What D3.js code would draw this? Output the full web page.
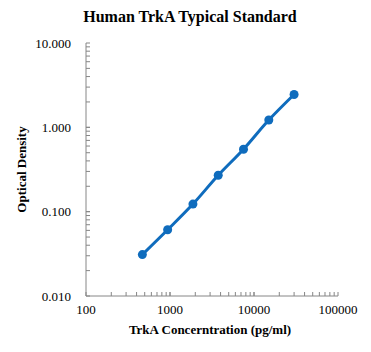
<!DOCTYPE html>
<html>
<head>
<meta charset="utf-8">
<script src="https://cdn.jsdelivr.net/npm/d3@7"></script>
<style>
body { margin: 0; background: #fff; }
text { font-family: "Liberation Serif", "Times New Roman", serif; }
</style>
</head>
<body>
<script>
var w = 371;
var h = 352;

var concentrations = [468.75, 937.5, 1875, 3750, 7500, 15000, 30000];
var densities = [0.031, 0.061, 0.123, 0.27, 0.55, 1.22, 2.45];
var xTicks = [100, 1000, 10000, 100000];
var yTicks = [0.01, 0.1, 1, 10];

var dataset = concentrations.map((c, i) => ({ x: c, y: densities[i] }));

var plotLeft = 86, plotRight = 338, plotTop = 43, plotBottom = 296;

var xScale = d3.scaleLog().domain([100, 100000]).range([plotLeft, plotRight]);
var yScale = d3.scaleLog().domain([0.01, 10]).range([plotBottom, plotTop]);

var svg = d3.select("body")
    .append("svg")
    .attr("width", w)
    .attr("height", h);

svg.append("text")
    .attr("x", 190)
    .attr("y", 22)
    .attr("text-anchor", "middle")
    .attr("font-size", 16)
    .attr("font-weight", "bold")
    .text("Human TrkA Typical Standard");

// minor ticks for each decade
var minor = (lo, hi) => {
    var out = [];
    for (var d = lo; d < hi; d *= 10)
        for (var k = 1; k <= 10; k++) out.push(d * k);
    return out;
};

var axisColor = "#868686";

svg.selectAll(".xt")
    .data(minor(100, 100000))
    .enter()
    .append("line")
    .attr("x1", d => xScale(d))
    .attr("x2", d => xScale(d))
    .attr("y1", plotBottom)
    .attr("y2", plotBottom - 4)
    .attr("stroke", axisColor);

svg.selectAll(".yt")
    .data(minor(0.01, 10))
    .enter()
    .append("line")
    .attr("x1", plotLeft)
    .attr("x2", plotLeft + 4)
    .attr("y1", d => yScale(d))
    .attr("y2", d => yScale(d))
    .attr("stroke", axisColor);

svg.append("line")
    .attr("x1", plotLeft).attr("x2", plotRight)
    .attr("y1", plotBottom).attr("y2", plotBottom)
    .attr("stroke", axisColor);
svg.append("line")
    .attr("x1", plotLeft).attr("x2", plotLeft)
    .attr("y1", plotTop).attr("y2", plotBottom)
    .attr("stroke", axisColor);

svg.selectAll(".xl")
    .data(xTicks)
    .enter()
    .append("text")
    .attr("x", d => xScale(d))
    .attr("y", plotBottom + 18)
    .attr("text-anchor", "middle")
    .attr("font-size", 13)
    .text(d => d);

svg.selectAll(".yl")
    .data(yTicks)
    .enter()
    .append("text")
    .attr("x", plotLeft - 15)
    .attr("y", d => yScale(d))
    .attr("dy", "0.35em")
    .attr("text-anchor", "end")
    .attr("font-size", 13)
    .text(d => d3.format(".3f")(d));

svg.append("text")
    .attr("x", 210)
    .attr("y", 334)
    .attr("text-anchor", "middle")
    .attr("font-size", 13)
    .attr("font-weight", "bold")
    .text("TrkA Concerntration (pg/ml)");

svg.append("text")
    .attr("transform", "translate(26," + ((plotTop + plotBottom) / 2) + ") rotate(-90)")
    .attr("text-anchor", "middle")
    .attr("font-size", 13)
    .attr("font-weight", "bold")
    .text("Optical Density");

var color = "#0f6cbd";

var line = d3.line()
    .x(d => xScale(d.x))
    .y(d => yScale(d.y))
    .curve(d3.curveCatmullRom);

svg.append("path")
    .datum(dataset)
    .attr("d", line)
    .attr("fill", "none")
    .attr("stroke", color)
    .attr("stroke-width", 3);

svg.selectAll("circle")
    .data(dataset)
    .enter()
    .append("circle")
    .attr("cx", d => xScale(d.x))
    .attr("cy", d => yScale(d.y))
    .attr("r", 4.5)
    .attr("fill", color);
</script>
</body>
</html>
